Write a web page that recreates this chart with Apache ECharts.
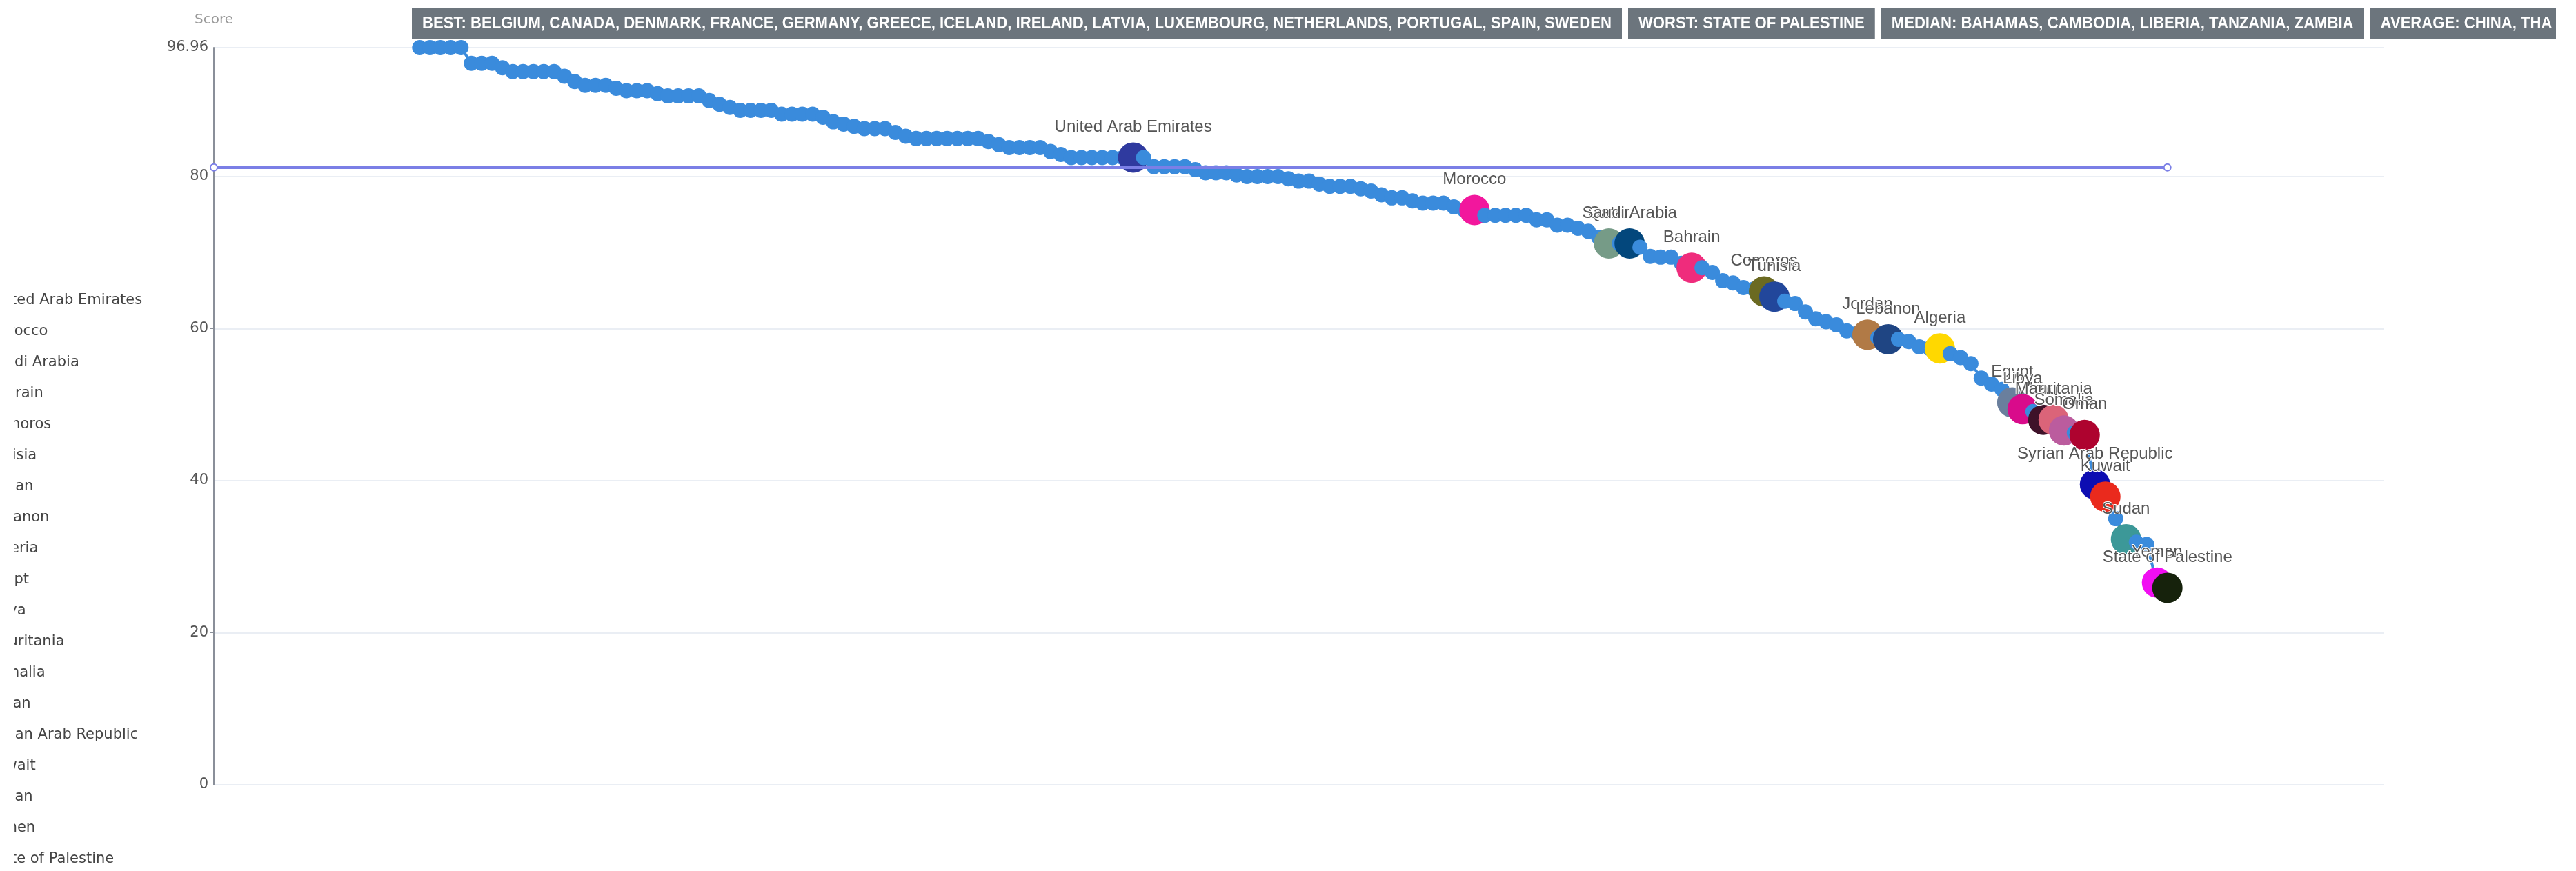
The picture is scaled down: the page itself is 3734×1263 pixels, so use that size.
<!DOCTYPE html>
<html><head><meta charset="utf-8">
<script src="https://cdn.jsdelivr.net/npm/echarts@6/dist/echarts.min.js"></script>
<style>html,body{margin:0;padding:0;background:#fff;overflow:hidden}#c{width:3734px;height:1263px;}</style>
</head><body><div id="c"></div>
<script>
// ---- data ----
const scores = [
96.96,96.96,96.96,96.96,96.96,94.9,94.9,94.9,94.3,93.8,
93.8,93.8,93.8,93.8,93.2,92.5,92.0,92.0,92.0,91.6,
91.3,91.3,91.3,90.9,90.6,90.6,90.6,90.6,90.0,89.5,
89.1,88.7,88.7,88.7,88.7,88.2,88.2,88.2,88.2,87.8,
87.2,86.9,86.6,86.3,86.3,86.3,85.8,85.3,85.0,85.0,
85.0,85.0,85.0,85.0,85.0,84.6,84.2,83.8,83.8,83.8,
83.8,83.3,82.9,82.5,82.5,82.5,82.5,82.5,82.5,82.5,
82.5,81.3,81.3,81.3,81.3,80.9,80.5,80.5,80.5,80.2,
80.0,80.0,80.0,80.0,79.7,79.4,79.4,79.0,78.7,78.7,
78.7,78.4,78.1,77.6,77.2,77.2,76.8,76.5,76.5,76.5,
76.0,75.6,75.6,74.9,74.9,74.9,74.9,74.9,74.3,74.3,
73.6,73.6,73.2,72.8,72.0,71.2,71.2,71.2,70.7,69.5,
69.4,69.4,68.6,68.0,68.0,67.4,66.3,66.0,65.4,65.2,
64.9,64.2,63.6,63.3,62.2,61.3,60.9,60.5,59.7,59.4,
59.2,58.8,58.6,58.6,58.3,57.6,57.4,57.4,56.7,56.2,
55.4,53.5,52.7,52.0,50.3,49.4,49.1,48.0,48.0,46.6,
46.3,46.0,39.5,37.9,35.0,32.3,31.9,31.6,26.6,25.9
];
const hlIndex = [69,102,115,117,123,130,131,140,142,147,154,155,157,158,159,161,162,163,165,168,169];
const hlName = ['United Arab Emirates','Morocco','Qatar','Saudi Arabia','Bahrain','Comoros','Tunisia','Jordan','Lebanon','Algeria','Egypt','Libya','Iraq','Mauritania','Somalia','Oman','Syrian Arab Republic','Kuwait','Sudan','Yemen','State of Palestine'];
const hlColor = ['#2f3a9f','#f2179d','#769b87','#03477c','#ef2c7c','#6b6a22','#22479b','#b17a46','#1f4583','#ffd800','#6a7f9d','#d90b8b','#3e1229','#db6479','#bb5c9e','#ae032f','#0d0db2','#ea2a1d','#3c9898','#f10ef2','#16220c'];
const legendNames = ['United Arab Emirates','Morocco','Saudi Arabia','Bahrain','Comoros','Tunisia','Jordan','Lebanon','Algeria','Egypt','Libya','Mauritania','Somalia','Oman','Syrian Arab Republic','Kuwait','Sudan','Yemen','State of Palestine'];
const averageLine = 81.2;
const badges = [
 'BEST: BELGIUM, CANADA, DENMARK, FRANCE, GERMANY, GREECE, ICELAND, IRELAND, LATVIA, LUXEMBOURG, NETHERLANDS, PORTUGAL, SPAIN, SWEDEN',
 'WORST: STATE OF PALESTINE',
 'MEDIAN: BAHAMAS, CAMBODIA, LIBERIA, TANZANIA, ZAMBIA',
 'AVERAGE: CHINA, THAILAND'
];

// ---- chart ----
const BLUE = '#3a8bdc';
const N = scores.length;
const xMin = -19.9, xMax = N - 1 + 20.9;

const mainData = scores.map((v, i) => {
  const h = hlIndex.indexOf(i);
  if (h < 0) return { value: [i, v] };
  return { value: [i, v], name: hlName[h], symbolSize: 44, itemStyle: { color: hlColor[h] }, label: { show: true } };
});

// badges
const ctx = document.createElement('canvas').getContext('2d');
const badgeFont = 'bold 24px "Liberation Sans"';
ctx.font = badgeFont;
const bw = badges.map(t => ctx.measureText(t).width);
const k = 1724 / bw[0];
const graphics = [];
let bx = 597; const pad = 15, gap = 9, bRight = 3705;
badges.forEach((t, i) => {
  let w = bw[i] * k + 2 * pad, trunc = false;
  if (bx + w > bRight) { w = bRight - bx; trunc = true; }
  graphics.push({ type: 'rect', z: 50, shape: { x: bx, y: 11, width: w, height: 45 }, style: { fill: '#6c757d' } });
  const st = { text: t, x: 0, y: 0, font: badgeFont, fill: '#ffffff', align: 'left', verticalAlign: 'middle' };
  if (trunc) { st.width = (w - pad) / k; st.overflow = 'truncate'; st.ellipsis = ''; }
  graphics.push({ type: 'text', z: 51, x: bx + pad, y: 34, scaleX: k, style: st });
  bx += w + gap;
});
graphics.push({ type: 'rect', z: 100, shape: { x: 0, y: 380, width: 21, height: 883 }, style: { fill: '#ffffff' } });

const series = [{
  type: 'line', name: 'Countries', data: mainData,
  symbol: 'circle', symbolSize: 22, showAllSymbol: true,
  itemStyle: { color: BLUE }, lineStyle: { color: BLUE, width: 4 },
  emphasis: { disabled: true },
  label: { show: false, position: 'top', distance: 10, formatter: '{b}', fontFamily: 'Liberation Sans', fontSize: 24, color: '#555', textBorderColor: '#fff', textBorderWidth: 2 },
  markLine: {
    silent: true, symbol: ['emptyCircle', 'emptyCircle'], symbolSize: 10,
    label: { show: false }, lineStyle: { color: '#7b7fe6', width: 4, type: 'solid' },
    data: [[{ coord: [xMin, averageLine] }, { coord: [N - 1, averageLine] }]]
  }
}];
legendNames.forEach(n => {
  series.push({ type: 'scatter', name: n, data: [], itemStyle: { color: hlColor[hlName.indexOf(n)] } });
});

const chart = echarts.init(document.getElementById('c'));
chart.setOption({
  animation: false,
  grid: { left: 310, right: 279, top: 69, bottom: 125 },
  legend: {
    orient: 'vertical', left: -48, top: 419, itemWidth: 25, itemHeight: 14, itemGap: 21,
    selectedMode: false, data: legendNames,
    textStyle: { fontFamily: 'DejaVu Sans', fontSize: 21, color: '#444', lineHeight: 24 }
  },
  xAxis: { type: 'value', min: xMin, max: xMax, show: false },
  yAxis: {
    type: 'value', min: 0, max: 'dataMax', interval: 20,
    name: 'Score', nameLocation: 'end', nameGap: 30,
    nameTextStyle: { fontFamily: 'DejaVu Sans', fontSize: 20, color: '#999' },
    axisLine: { show: true, onZero: false, lineStyle: { color: '#8a8f99', width: 2 } },
    axisTick: { show: true, length: 5, lineStyle: { color: '#8a8f99' } },
    axisLabel: { fontFamily: 'DejaVu Sans', fontSize: 21, color: '#555', margin: 8 },
    splitLine: { lineStyle: { color: '#E3E8F0', width: 1.5 } }
  },
  graphic: graphics,
  series: series
});
</script>
</body></html>
